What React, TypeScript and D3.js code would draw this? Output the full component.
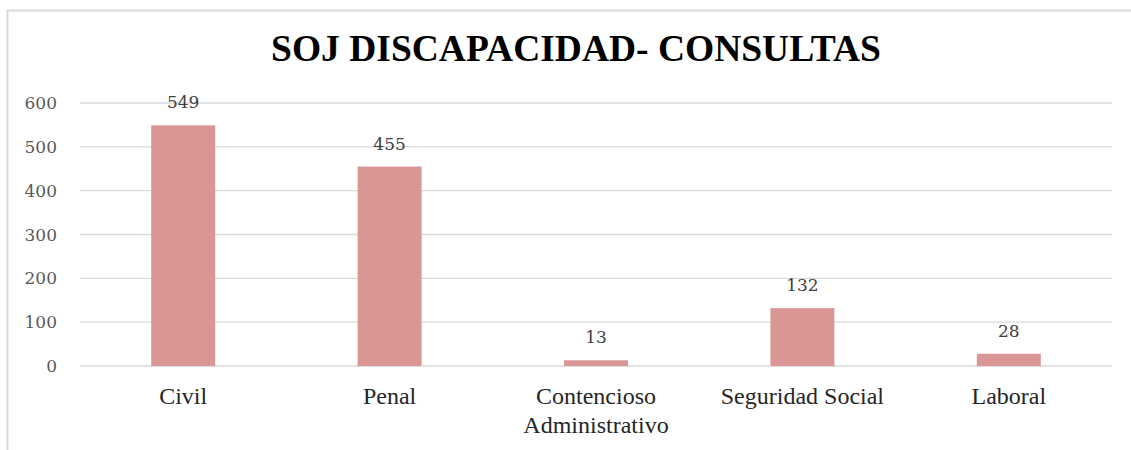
import React, { useEffect, useRef } from "react";
import * as d3 from "d3";

const categories = ["Civil", "Penal", "Contencioso Administrativo", "Seguridad Social", "Laboral"];
const categoryLines = [["Civil"], ["Penal"], ["Contencioso", "Administrativo"], ["Seguridad Social"], ["Laboral"]];
const values = [549, 455, 13, 132, 28];
const yTicks = [0, 100, 200, 300, 400, 500, 600];
const title = "SOJ DISCAPACIDAD- CONSULTAS";

export default function App() {
    const ref = useRef<SVGSVGElement>(null);
    const width = 1131;
    const height = 450;

    useEffect(() => {
        const svg = d3.select(ref.current);
        svg.selectAll("*").remove();

        // chart frame (only top and left edges fall inside the picture)
        svg.append("rect")
            .attr("x", 7.5).attr("y", 10.5)
            .attr("width", 1140).attr("height", 460)
            .attr("fill", "white")
            .attr("stroke", "#d9d9d9")
            .attr("stroke-width", 2);

        svg.append("text")
            .attr("x", 576).attr("y", 61)
            .attr("text-anchor", "middle")
            .attr("font-family", "Liberation Serif")
            .attr("font-weight", "bold")
            .attr("font-size", 37.5)
            .attr("fill", "#000")
            .text(title);

        let x = d3.scaleBand()
            .domain(categories)
            .range([80, 1112])
            .paddingInner(0.69)
            .paddingOuter(0.345);

        let y = d3.scaleLinear().domain([0, 600]).range([366, 103]);

        let grid = svg.append("g");
        grid.selectAll("line").data(yTicks).enter().append("line")
            .attr("x1", 80).attr("x2", 1112)
            .attr("y1", d => y(d)).attr("y2", d => y(d))
            .attr("stroke", "#d9d9d9")
            .attr("stroke-width", 1.3);

        grid.selectAll("text").data(yTicks).enter().append("text")
            .attr("x", 57)
            .attr("y", d => y(d) + 6)
            .attr("text-anchor", "end")
            .attr("font-family", "DejaVu Serif")
            .attr("font-size", 17)
            .attr("fill", "#595959")
            .text(d => d);

        svg.append("g").selectAll("rect").data(values).enter().append("rect")
            .attr("x", (d, i) => x(categories[i])!)
            .attr("y", d => y(d))
            .attr("width", x.bandwidth())
            .attr("height", d => y(0) - y(d))
            .attr("fill", "#d99694");

        svg.append("g").selectAll("text").data(values).enter().append("text")
            .attr("x", (d, i) => x(categories[i])! + x.bandwidth() / 2)
            .attr("y", d => y(d) - 17)
            .attr("text-anchor", "middle")
            .attr("font-family", "DejaVu Serif")
            .attr("font-size", 17)
            .attr("fill", "#404040")
            .text(d => d);

        let labels = svg.append("g").selectAll("text").data(categories).enter().append("text")
            .attr("x", d => x(d)! + x.bandwidth() / 2)
            .attr("y", 404)
            .attr("text-anchor", "middle")
            .attr("font-family", "Liberation Serif")
            .attr("font-size", 24)
            .attr("fill", "#262626");

        labels.selectAll("tspan").data((d, i) => categoryLines[i]).enter().append("tspan")
            .attr("x", function () { return d3.select(this.parentNode as SVGTextElement).attr("x"); })
            .attr("dy", (d, i) => (i === 0 ? 0 : 28.7))
            .text(d => d);
    }, []);

    return (
        <svg ref={ref} width={width} height={height}
            style={{ position: "absolute", left: 0, top: 0, background: "white" }}>
        </svg>
    );
}
